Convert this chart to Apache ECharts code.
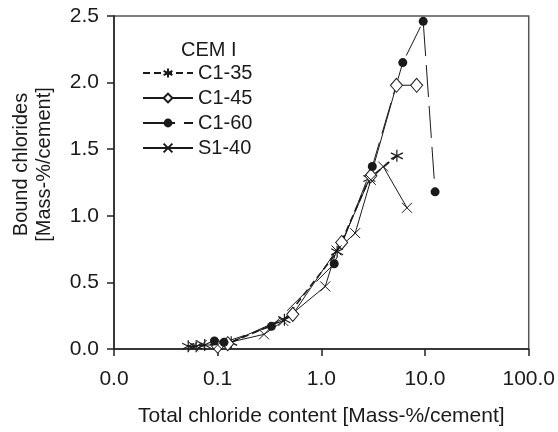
<!DOCTYPE html>
<html><head><meta charset="utf-8">
<script src="https://cdn.jsdelivr.net/npm/echarts@6/dist/echarts.min.js"></script>
<style>html,body{margin:0;padding:0;background:#fff}#c{width:558px;height:432px}</style>
</head><body><div id="c"></div>
<script>
// Data: [total chloride, bound chloride]
const c135 = [[0.052,0.02],[0.062,0.02],[0.075,0.03],[0.12,0.04],[0.135,0.05],[0.44,0.22],[1.42,0.73],[2.9,1.28],[5.35,1.45]];
const c145 = [[0.1,0.02],[0.125,0.04],[0.53,0.26],[1.57,0.8],[3.0,1.3],[5.3,1.98],[8.3,1.98]];
const c160 = [[0.093,0.06],[0.115,0.05],[0.33,0.17],[1.33,0.64],[3.1,1.37],[6.1,2.15],[9.6,2.46],[12.5,1.18]];
const s140 = [[0.058,0.02],[0.07,0.03],[0.1,0.03],[0.28,0.11],[0.43,0.21],[1.09,0.47],[1.4,0.74],[2.12,0.87],[3.0,1.27],[3.95,1.37],[6.7,1.06]];
const names = ['C1-35','C1-45','C1-60','S1-40'];
const xTicks = [0.01,0.1,1,10,100];
const yTicks = [0,0.5,1,1.5,2,2.5];

const INK = '#1a1a1a';
const FONT = 'Liberation Sans';
const asterisk = 'path://M5,0L5,10M0.67,2.5L9.33,7.5M0.67,7.5L9.33,2.5';
const cross = 'path://M0,0L10,10M10,0L0,10';
const chart = echarts.init(document.getElementById('c'));
chart.setOption({
  animation:false,
  title:{text:'CEM I', left:176, top:35, textStyle:{fontFamily:FONT, fontSize:20, fontWeight:'normal', color:INK}},
  grid:{left:114, right:28, top:16, bottom:81, show:true, borderColor:'#555', borderWidth:1.5},
  legend:{orient:'vertical', left:142, top:63, itemWidth:50, itemHeight:11, itemGap:5, padding:0,
    textStyle:{fontFamily:FONT, fontSize:20, color:INK}, data:names},
  xAxis:{type:'log', logBase:10, min:0.01, max:100,
    axisLine:{lineStyle:{color:'#222', width:1.5}}, axisTick:{length:7, lineStyle:{color:'#222', width:1.5}},
    splitLine:{show:false}, minorTick:{show:false},
    axisLabel:{margin:20, fontFamily:FONT, fontSize:21, color:INK, formatter:v=>Number(v).toFixed(1)},
    name:'Total chloride content [Mass-%/cement]', nameLocation:'middle', nameGap:57,
    nameTextStyle:{fontFamily:FONT, fontSize:21, color:INK}},
  yAxis:{type:'value', min:0, max:2.5, interval:0.5,
    axisLine:{show:true, lineStyle:{color:'#222', width:1.5}}, axisTick:{show:true, length:7, lineStyle:{color:'#222', width:1.5}},
    splitLine:{show:false},
    axisLabel:{margin:15, fontFamily:FONT, fontSize:21, color:INK, formatter:v=>v.toFixed(1)},
    name:'Bound chlorides\n[Mass-%/cement]', nameLocation:'middle', nameGap:58,
    nameTextStyle:{fontFamily:FONT, fontSize:20, color:INK, lineHeight:23, padding:[0,0,0,36]}},
  series:[
    {name:names[0], type:'line', data:c135, symbol:asterisk, symbolSize:12,
      lineStyle:{color:INK, width:1.6, type:[7,4]}, itemStyle:{color:'none', borderColor:INK, borderWidth:1.2}},
    {name:names[1], type:'line', data:c145, symbol:'diamond', symbolSize:[12,14],
      lineStyle:{color:INK, width:1}, itemStyle:{color:'#fff', borderColor:INK, borderWidth:1}},
    {name:names[2], type:'line', data:c160, symbol:'circle', symbolSize:9,
      lineStyle:{color:INK, width:1, type:[32,9]}, itemStyle:{color:INK, borderColor:INK, borderWidth:0}},
    {name:names[3], type:'line', data:s140, symbol:cross, symbolSize:10,
      lineStyle:{color:INK, width:1}, itemStyle:{color:'none', borderColor:INK, borderWidth:1}}
  ]
});
</script></body></html>
